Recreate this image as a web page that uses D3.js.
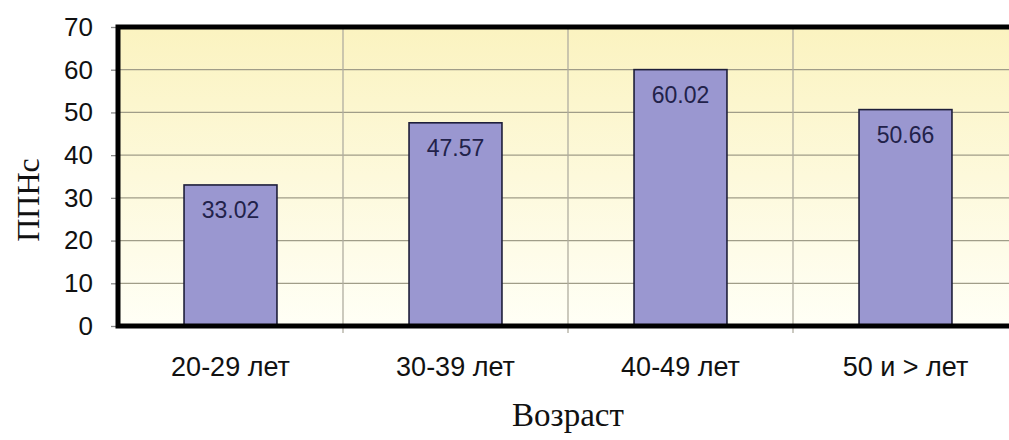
<!DOCTYPE html>
<html>
<head>
<meta charset="utf-8">
<script src="https://cdn.jsdelivr.net/npm/d3@7/dist/d3.min.js"></script>
<style>
  html, body { margin: 0; padding: 0; background: #fff; }
  svg { display: block; }
</style>
</head>
<body>
<svg id="chart" width="1009" height="440"></svg>
<script>
// Age groups and ППНс values
const categories = ["20-29 лет", "30-39 лет", "40-49 лет", "50 и > лет"];
const values = [33.02, 47.57, 60.02, 50.66];
const yTicks = [0, 10, 20, 30, 40, 50, 60, 70];

const svg = d3.select("#chart");
const plotLeft = 118, plotRight = 1018, plotTop = 27, plotBottom = 326;

const x = d3.scaleBand()
  .domain(categories)
  .range([plotLeft, plotRight])
  .paddingInner(0.587)
  .paddingOuter(0.2935);
const step = x.step();

const y = d3.scaleLinear().domain([0, 70]).range([plotBottom, plotTop]);

// Plot background gradient
const defs = svg.append("defs");
const grad = defs.append("linearGradient")
  .attr("id", "bg").attr("x1", 0).attr("y1", 0).attr("x2", 0).attr("y2", 1);
grad.append("stop").attr("offset", "0%").attr("stop-color", "#fbf3c0");
grad.append("stop").attr("offset", "100%").attr("stop-color", "#fffff6");

svg.append("rect")
  .attr("x", plotLeft).attr("y", plotTop)
  .attr("width", plotRight - plotLeft).attr("height", plotBottom - plotTop)
  .attr("fill", "url(#bg)");

// Horizontal gridlines
svg.append("g").selectAll("line")
  .data(yTicks.filter(d => d > 0 && d < 70))
  .join("line")
  .attr("x1", plotLeft).attr("x2", plotRight)
  .attr("y1", d => y(d)).attr("y2", d => y(d))
  .attr("stroke", "#a09d88").attr("stroke-width", 1.3);

// Vertical gridlines between categories (with small ticks below the axis)
const boundaryX = categories.map((c, i) => plotLeft + step * (i + 1));
svg.append("g").selectAll("line")
  .data(boundaryX)
  .join("line")
  .attr("x1", d => d).attr("x2", d => d)
  .attr("y1", plotTop).attr("y2", plotBottom + 7)
  .attr("stroke", "#b0ada0").attr("stroke-width", 1.3);

// Bars
svg.append("g").selectAll("rect")
  .data(values)
  .join("rect")
  .attr("x", (d, i) => x(categories[i]))
  .attr("y", d => y(d))
  .attr("width", x.bandwidth())
  .attr("height", d => plotBottom - y(d))
  .attr("fill", "#9a97d0")
  .attr("stroke", "#1e1e3a")
  .attr("stroke-width", 1.6);

// Value labels inside bars
svg.append("g").selectAll("text")
  .data(values)
  .join("text")
  .attr("x", (d, i) => x(categories[i]) + x.bandwidth() / 2)
  .attr("y", d => y(d) + 33)
  .attr("text-anchor", "middle")
  .attr("font-family", "Liberation Sans, Arial, sans-serif")
  .attr("font-size", 23)
  .attr("fill", "#22224a")
  .text(d => d.toFixed(2));

// Y axis ticks and labels
const yAxis = d3.axisLeft(y).tickValues(yTicks).tickSize(7).tickPadding(18);
const gy = svg.append("g").attr("transform", `translate(${plotLeft},0)`).call(yAxis);
gy.select(".domain").remove();
gy.selectAll(".tick line").attr("stroke", "#888").attr("stroke-width", 1.3);
gy.selectAll(".tick text")
  .attr("font-family", "Liberation Sans, Arial, sans-serif")
  .attr("font-size", 26).attr("fill", "#111");

// X axis labels
const xAxis = d3.axisBottom(x).tickSize(0).tickPadding(31);
const gx = svg.append("g").attr("transform", `translate(0,${plotBottom})`).call(xAxis);
gx.select(".domain").remove();
gx.selectAll(".tick text")
  .attr("font-family", "Liberation Sans, Arial, sans-serif")
  .attr("font-size", 27).attr("fill", "#111");

// Heavy frame lines: top, left, bottom
svg.append("path")
  .attr("d", `M${plotRight},${plotTop}H${plotLeft}V${plotBottom}H${plotRight}`)
  .attr("fill", "none").attr("stroke", "#000").attr("stroke-width", 5);

// Axis titles
svg.append("text")
  .attr("x", 568).attr("y", 426)
  .attr("text-anchor", "middle")
  .attr("font-family", "Liberation Serif, Times New Roman, serif")
  .attr("font-size", 33).attr("fill", "#111")
  .text("Возраст");

svg.append("text")
  .attr("transform", "translate(39,200) rotate(-90)")
  .attr("text-anchor", "middle")
  .attr("font-family", "Liberation Serif, Times New Roman, serif")
  .attr("font-size", 32).attr("fill", "#111")
  .text("ППНс");
</script>
</body>
</html>
